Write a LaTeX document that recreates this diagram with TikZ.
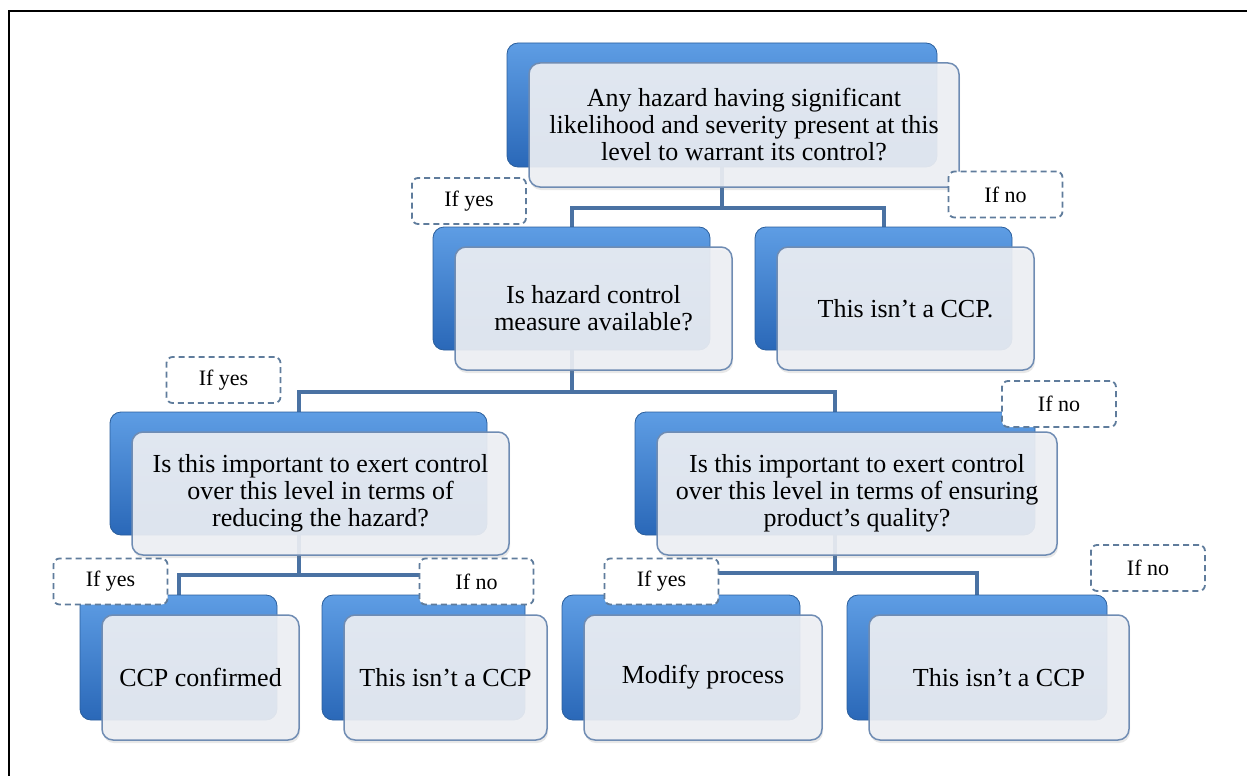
\documentclass[tikz,border=0pt]{standalone}
\usepackage{fontspec}
\setmainfont{Liberation Serif}
\usetikzlibrary{shadows}
\definecolor{bluetop}{HTML}{5E9DE4}
\definecolor{bluebot}{HTML}{2A68B8}
\definecolor{blueedge}{HTML}{2A5E9C}
\definecolor{frontfill}{HTML}{EFF1F5}
\definecolor{frontedge}{HTML}{6F8CB3}
\definecolor{connc}{HTML}{4A72A3}
\definecolor{dashc}{HTML}{5F7C9C}
\pgfdeclarelayer{bg}
\pgfsetlayers{bg,main}
\newcommand\backnode[5]{%
  \node[backbox, minimum width={#4-#2}, minimum height={#5-#3}] (#1b) at ({(#2+#4)/2},{-(#3+#5)/2}) {};}
\newcommand\frontnode[6]{%
  \node[frontbox, minimum width={#4-#2}, minimum height={#5-#3}] (#1) at ({(#2+#4)/2+22},{-(#3+#5)/2-20}) {#6};}
\begin{document}
\begin{tikzpicture}[x=1pt,y=1pt,
  backbox/.style={rectangle, rounded corners=11pt, top color=bluetop, bottom color=bluebot, draw=blueedge, line width=0.8pt, inner sep=0pt},
  frontbox/.style={rectangle, rounded corners=11pt, fill=frontfill, fill opacity=0.9, text opacity=1, draw=frontedge, draw opacity=1, line width=1.5pt, inner sep=0pt, align=center, font=\fontsize{26}{27}\selectfont, drop shadow={shadow xshift=1pt, shadow yshift=-3pt, opacity=0.18}},
  lab/.style={rectangle, rounded corners=6pt, draw=dashc, dash pattern=on 6pt off 4pt, line width=1.8pt, fill=white, inner sep=0pt, minimum width=114, minimum height=46, font=\fontsize{22}{24}\selectfont},
  conn/.style={draw=connc, line width=4pt},
]
\useasboundingbox (0,0) rectangle (1247,-776);
\coordinate (fa) at (9,-776);
\coordinate (fb) at (9,-11);
\coordinate (fc) at (1247,-11);
\draw[line width=2.5pt, black] (fa) -- (fb) -- (fc);

% top
\backnode{top}{507}{43}{937}{167}
\frontnode{top}{507}{43}{937}{167}{Any hazard having significant\\likelihood and severity present at this\\level to warrant its control?}
% level 2
\backnode{qa}{433}{227}{710}{350}
\frontnode{qa}{433}{227}{710}{350}{Is hazard control\\measure available?}
\backnode{na}{755}{227}{1012}{350}
\frontnode{na}{755}{227}{1012}{350}{This isn't a CCP.}
% level 3
\backnode{qb}{110}{412}{487}{535}
\frontnode{qb}{110}{412}{487}{535}{Is this important to exert control\\over this level in terms of\\reducing the hazard?}
\backnode{qc}{635}{412}{1035}{535}
\frontnode{qc}{635}{412}{1035}{535}{Is this important to exert control\\over this level in terms of ensuring\\product's quality?}
% bottom
\backnode{ca}{80}{595}{277}{720}
\frontnode{ca}{80}{595}{277}{720}{CCP confirmed}
\backnode{nb}{322}{595}{525}{720}
\frontnode{nb}{322}{595}{525}{720}{This isn't a CCP}
\backnode{mp}{562}{595}{800}{720}
\frontnode{mp}{562}{595}{800}{720}{Modify process}
\backnode{nc}{847}{595}{1107}{720}
\frontnode{nc}{847}{595}{1107}{720}{This isn't a CCP}

% connectors
\coordinate (h1) at (0,-208);
\coordinate (h2) at (0,-392);
\coordinate (h3) at (0,-575);
\coordinate (h4) at (0,-573);
\begin{pgfonlayer}{bg}
\draw[conn] (topb.south) -- (topb.south |- h1) -| (qab.north);
\draw[conn] (topb.south |- h1) -| (nab.north);
\draw[conn] (qab.south) -- (qab.south |- h2) -| (qbb.north);
\draw[conn] (qab.south |- h2) -| (qcb.north);
\draw[conn] (qbb.south) -- (qbb.south |- h3) -| (cab.north);
\draw[conn] (qbb.south |- h3) -| (nbb.north);
\draw[conn] (qcb.south) -- (qcb.south |- h4) -| (mpb.north);
\draw[conn] (qcb.south |- h4) -| (ncb.north);
\end{pgfonlayer}

% labels
\node[lab] (l1) at (469,-201) {If yes};
\node[lab] (l2) at (1005.5,-194.5) {If no};
\node[lab] (l3) at (223.5,-380) {If yes};
\node[lab] (l4) at (1059,-404) {If no};
\node[lab] (l5) at (110.5,-581.5) {If yes};
\node[lab] (l6) at (476.5,-581.5) {If no};
\node[lab] (l7) at (661.5,-581.5) {If yes};
\node[lab] (l8) at (1148,-568) {If no};
\end{tikzpicture}
\end{document}
